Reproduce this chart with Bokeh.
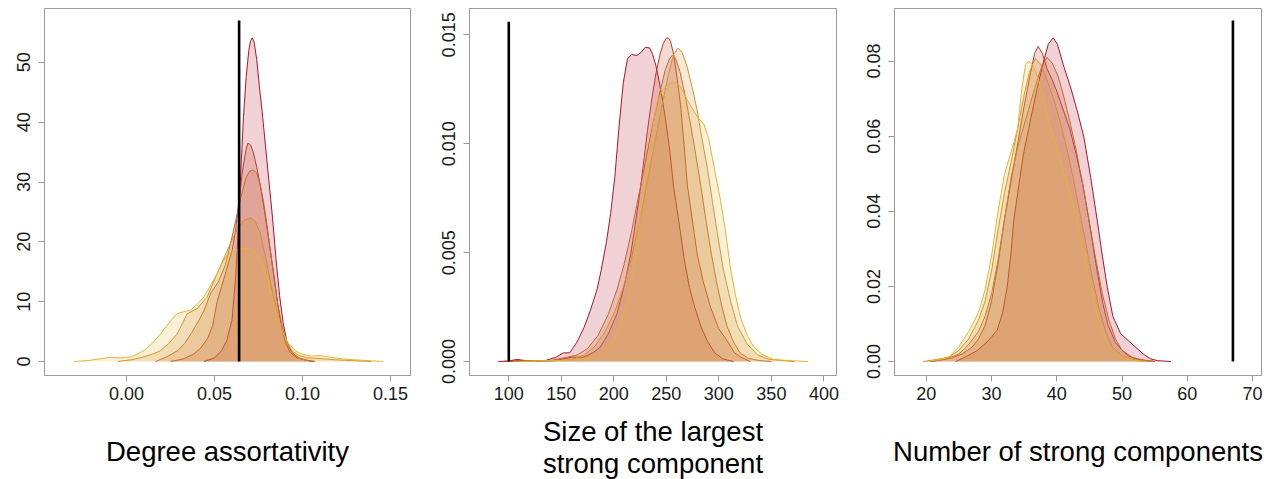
from bokeh.plotting import figure
from bokeh.layouts import row
from bokeh.models import FixedTicker
from bokeh.embed import file_html
from bokeh.resources import INLINE

# ---------------- Panel 1: Degree assortativity ----------------
a_x1 = [0.044, 0.050, 0.054, 0.057, 0.060, 0.062, 0.0635, 0.065, 0.0665, 0.068, 0.0695, 0.0705, 0.0715, 0.0725, 0.074, 0.0755, 0.077, 0.079, 0.081, 0.083, 0.085, 0.087, 0.089, 0.091, 0.094, 0.098, 0.102, 0.106]
a_y1 = [0, 0.6, 1.8, 3.5, 7, 14, 22, 32, 41, 47.5, 52, 53.6, 54.1, 53.4, 50.5, 46, 42, 36, 30, 24, 17, 11, 6.5, 3.5, 1.5, 0.6, 0.2, 0]
a_x2 = [0.025, 0.032, 0.038, 0.042, 0.046, 0.049, 0.0515, 0.054, 0.057, 0.060, 0.062, 0.064, 0.066, 0.068, 0.069, 0.0705, 0.072, 0.074, 0.076, 0.078, 0.080, 0.082, 0.084, 0.086, 0.088, 0.090, 0.093, 0.097, 0.101, 0.107]
a_y2 = [0, 0.4, 1.2, 2.2, 3.8, 6, 10, 12.5, 15.5, 18.5, 22, 27, 32, 35.5, 36.5, 36.2, 35, 32.5, 29.5, 26, 22, 18, 14, 9.5, 6, 3.5, 1.5, 0.6, 0.3, 0]
a_x3 = [0.0165, 0.023, 0.029, 0.033, 0.037, 0.041, 0.044, 0.048, 0.052, 0.056, 0.059, 0.062, 0.065, 0.068, 0.070, 0.072, 0.074, 0.076, 0.078, 0.080, 0.082, 0.084, 0.086, 0.088, 0.090, 0.093, 0.097, 0.102, 0.107]
a_y3 = [0, 0.8, 1.8, 3.0, 4.8, 6.8, 8.5, 11.5, 13.2, 16, 19.5, 23.5, 27.5, 30.8, 31.8, 32, 31.5, 29.5, 26.5, 22.5, 18, 13.5, 9.5, 6.5, 4.0, 1.8, 0.7, 0.2, 0]
a_x4 = [-0.005, 0.003, 0.010, 0.0155, 0.0193, 0.024, 0.0288, 0.032, 0.0345, 0.040, 0.0458, 0.0515, 0.0572, 0.061, 0.064, 0.067, 0.0705, 0.073, 0.076, 0.079, 0.082, 0.085, 0.088, 0.091, 0.094, 0.098, 0.103, 0.110, 0.118, 0.128, 0.139]
a_y4 = [0, 0.3, 0.8, 1.3, 1.8, 3.0, 4.6, 6.5, 8.0, 8.8, 10.75, 14.7, 18.5, 21, 22.6, 23.6, 24, 23.5, 21.5, 17.5, 13, 9, 5.5, 3.2, 1.8, 1.0, 0.6, 0.5, 0.3, 0.15, 0]
a_x5 = [-0.030, -0.022, -0.015, -0.009, -0.003, 0.003, 0.0098, 0.0145, 0.0193, 0.024, 0.0288, 0.0335, 0.0364, 0.040, 0.0439, 0.048, 0.0515, 0.0545, 0.0572, 0.061, 0.065, 0.069, 0.073, 0.0765, 0.080, 0.083, 0.086, 0.089, 0.092, 0.096, 0.100, 0.105, 0.110, 0.116, 0.124, 0.134, 0.146]
a_y5 = [0, 0.15, 0.45, 0.7, 0.6, 0.8, 1.8, 3.0, 4.6, 6.4, 8.0, 8.4, 8.6, 9.5, 10.75, 12.8, 14.7, 16.5, 17.8, 18.5, 18.8, 18.9, 18.4, 17, 14, 10.5, 7.5, 4.8, 3.0, 1.8, 1.2, 0.9, 1.0, 0.7, 0.4, 0.2, 0]
a_obs = 0.064
a_obs_top = 57
a_xticks = [0.0, 0.05, 0.10, 0.15]
a_xlabels = ["0.00", "0.05", "0.10", "0.15"]
a_yticks = [0, 10, 20, 30, 40, 50]
a_ylabels = ["0", "10", "20", "30", "40", "50"]

# ---------------- Panel 2: Size of the largest strong component ----------------
b_x1 = [90, 100, 108, 115, 125, 135, 145, 152, 158, 165, 172, 178, 184, 188, 193, 197, 201, 205, 209, 213, 217, 222, 226, 230, 234, 237, 240, 243, 246, 249, 253, 257, 262, 267, 272, 277, 283, 289, 296, 304, 314]
b_y1 = [0, 0.00003, 0.0001, 0.00005, 0.00003, 0.00005, 0.0002, 0.0004, 0.0004, 0.0009, 0.0016, 0.0024, 0.0033, 0.0042, 0.0055, 0.0068, 0.0085, 0.0108, 0.0128, 0.0139, 0.0141, 0.01405, 0.0142, 0.01443, 0.0144, 0.0141, 0.0136, 0.0129, 0.0121, 0.0112, 0.0098, 0.0080, 0.0064, 0.0047, 0.0034, 0.0025, 0.0016, 0.00095, 0.0004, 0.00012, 0]
b_x2 = [95, 110, 125, 140, 150, 160, 171, 180, 187, 195, 203, 210, 216, 221, 225.5, 229, 232, 236, 240, 244, 247, 250, 252, 254, 257, 260, 263.5, 267, 270, 275, 279.5, 285, 292, 300, 308, 315, 321, 330]
b_y2 = [0, 0.00005, 0.00002, 0.00003, 0.0001, 0.0002, 0.0002, 0.0004, 0.00066, 0.0013, 0.0022, 0.0035, 0.0049, 0.0065, 0.0080, 0.0094, 0.0106, 0.0120, 0.0132, 0.0141, 0.0146, 0.01485, 0.01486, 0.0147, 0.0141, 0.0131, 0.0118, 0.0099, 0.0081, 0.0064, 0.0049, 0.0037, 0.0025, 0.0015, 0.00095, 0.0004, 0.0002, 0]
b_x3 = [100, 120, 140, 155, 165, 175, 185, 195, 203, 210, 217, 224, 231, 238, 244, 249, 253, 256, 259, 263, 268, 273, 278, 283, 288, 293, 298, 303, 308, 314, 320, 328, 338, 350]
b_y3 = [0, 0.00003, 0.00005, 0.0002, 0.0003, 0.0006, 0.0012, 0.0022, 0.0033, 0.0045, 0.0060, 0.0077, 0.0094, 0.0111, 0.0124, 0.0134, 0.0139, 0.01408, 0.0139, 0.0133, 0.0122, 0.0109, 0.0095, 0.0080, 0.0064, 0.0049, 0.0036, 0.0025, 0.0016, 0.0009, 0.0004, 0.00015, 0.00005, 0]
b_x4 = [105, 125, 145, 160, 172, 182, 192, 201, 209, 217, 225, 232, 238, 244, 249, 253, 257, 261, 265, 270, 275, 279.5, 284, 289, 294, 298.5, 304, 311, 318, 327, 337, 348, 360, 372]
b_y4 = [0, 0.00003, 0.00004, 0.0001, 0.0003, 0.0007, 0.0014, 0.0023, 0.0034, 0.0048, 0.0065, 0.0083, 0.0098, 0.0113, 0.0125, 0.0134, 0.0141, 0.01439, 0.0142, 0.0135, 0.0125, 0.0115, 0.0102, 0.0089, 0.0073, 0.0059, 0.0043, 0.0028, 0.0016, 0.0008, 0.0003, 0.0001, 0.00005, 0]
b_x5 = [110, 130, 150, 165, 180, 190, 200, 208, 216, 222, 228.6, 235, 241, 246, 251, 255, 258.8, 262, 266, 270, 275, 280, 285.7, 290, 294, 298, 301.6, 306, 311, 316, 320.7, 327, 333.3, 342, 352, 365, 385]
b_y5 = [0, 0.00003, 0.00005, 0.0001, 0.0002, 0.0005, 0.001, 0.0019, 0.0034, 0.0054, 0.0080, 0.0101, 0.0119, 0.0124, 0.0127, 0.0128, 0.01283, 0.0127, 0.0124, 0.0120, 0.0116, 0.0112, 0.0109, 0.0103, 0.0093, 0.0083, 0.0074, 0.0061, 0.0043, 0.0030, 0.0020, 0.0012, 0.00066, 0.0003, 0.0001, 0.00005, 0]
b_obs = 100
b_obs_top = 0.0156
b_xticks = [100, 150, 200, 250, 300, 350, 400]
b_xlabels = ["100", "150", "200", "250", "300", "350", "400"]
b_yticks = [0.0, 0.005, 0.010, 0.015]
b_ylabels = ["0.000", "0.005", "0.010", "0.015"]

# ---------------- Panel 3: Number of strong components ----------------
c_x1 = [24.5, 26, 27.8, 29.5, 30.85, 31.7, 32.4, 33.0, 33.4, 34.2, 34.9, 35.7, 36.5, 37.3, 38.0, 38.7, 39.45, 40.1, 41.0, 42.1, 43.1, 44.15, 45.2, 46.2, 47.0, 47.74, 48.6, 49.8, 51.0, 52.35, 53.4, 54.4, 55.5, 57.5]
c_y1 = [0, 0.0012, 0.0029, 0.0055, 0.0083, 0.013, 0.0198, 0.029, 0.0376, 0.047, 0.0553, 0.062, 0.0687, 0.075, 0.080, 0.0845, 0.0862, 0.0845, 0.079, 0.0731, 0.067, 0.0598, 0.049, 0.0376, 0.028, 0.0198, 0.012, 0.0074, 0.0055, 0.0034, 0.0018, 0.0007, 0.0002, 0]
c_x2 = [20.5, 22.5, 24, 25.5, 27, 28, 29, 30, 31, 32, 33, 34, 35, 36, 36.6, 37.15, 37.8, 38.5, 39.3, 40, 41, 42, 43, 44, 45, 46, 47, 47.8, 49, 50, 51, 52, 53.5, 55]
c_y2 = [0, 0.0005, 0.001, 0.002, 0.0038, 0.006, 0.0095, 0.016, 0.026, 0.038, 0.048, 0.058, 0.068, 0.077, 0.082, 0.0839, 0.082, 0.078, 0.075, 0.072, 0.067, 0.062, 0.055, 0.047, 0.037, 0.026, 0.016, 0.010, 0.005, 0.003, 0.0015, 0.0008, 0.0003, 0]
c_x3 = [21, 23, 25, 26.5, 28, 29, 30, 31, 32, 33, 34, 35, 36, 37, 37.8, 38.5, 39.3, 40.2, 41, 42, 43, 44, 45, 46, 47, 48, 49, 50, 51.5, 53, 55]
c_y3 = [0, 0.0006, 0.002, 0.0045, 0.008, 0.012, 0.018, 0.027, 0.038, 0.049, 0.057, 0.063, 0.069, 0.075, 0.079, 0.081, 0.0795, 0.076, 0.071, 0.064, 0.056, 0.047, 0.037, 0.027, 0.018, 0.011, 0.006, 0.003, 0.0012, 0.0004, 0]
c_x4 = [19.5, 21.5, 23.5, 25, 26.5, 28, 29, 30, 31, 32, 33, 34, 35, 35.8, 36.7, 37.6, 38.5, 39.5, 40.5, 41.5, 42.5, 43.5, 44.5, 45.5, 46.5, 47.5, 48.5, 50, 52, 54]
c_y4 = [0, 0.0005, 0.0012, 0.003, 0.006, 0.011, 0.016, 0.024, 0.035, 0.045, 0.053, 0.062, 0.071, 0.077, 0.0807, 0.079, 0.075, 0.070, 0.064, 0.057, 0.049, 0.040, 0.031, 0.022, 0.014, 0.008, 0.004, 0.0015, 0.0004, 0]
c_x5 = [20, 22, 23.5, 25, 26.5, 28, 29, 30, 31, 32, 33.2, 34.0, 34.6, 35.2, 35.7, 36.3, 37, 38, 39, 40, 41, 42, 43.1, 44, 45.2, 46.2, 47.2, 48.2, 49.5, 51, 53]
c_y5 = [0, 0.0005, 0.0012, 0.004, 0.008, 0.013, 0.019, 0.028, 0.040, 0.050, 0.057, 0.062, 0.072, 0.079, 0.080, 0.079, 0.076, 0.070, 0.0625, 0.057, 0.051, 0.045, 0.0384, 0.030, 0.0207, 0.0125, 0.0069, 0.0035, 0.0015, 0.0005, 0]
c_obs = 67
c_obs_top = 0.0908
c_xticks = [20, 30, 40, 50, 60, 70]
c_xlabels = ["20", "30", "40", "50", "60", "70"]
c_yticks = [0.0, 0.02, 0.04, 0.06, 0.08]
c_ylabels = ["0.00", "0.02", "0.04", "0.06", "0.08"]

series_colors = ["#B2182B", "#BD3F2E", "#C96631", "#D48C34", "#DFB337"]
line_colors = ["#A8162A", "#B8402C", "#C4672E", "#D38F2C", "#E0B532"]
FILL_ALPHA = 0.2

FONT = "Liberation Sans"
GRAY = "#9a9a9a"


def make_panel(xs, ys, obs, obs_top, xr, yr, xticks, xlabels, yticks, ylabels,
               label, fw, bl, br):
    p = figure(frame_width=fw, frame_height=367, x_range=xr, y_range=yr,
               output_backend="svg", toolbar_location=None,
               min_border_left=bl, min_border_right=br,
               min_border_top=8, min_border_bottom=104)
    p.grid.visible = False
    p.outline_line_color = GRAY
    p.outline_line_width = 1
    p.background_fill_color = "white"
    p.border_fill_color = "white"
    for i, (x, y) in enumerate(zip(xs, ys)):
        p.varea(x=x, y1=[0] * len(x), y2=y, fill_color=series_colors[i],
                fill_alpha=FILL_ALPHA)
        p.line(x, y, line_color=line_colors[i], line_width=1.0)
    p.segment(x0=[obs], y0=[0], x1=[obs], y1=[obs_top], line_color="black",
              line_width=2.6)
    for ax in (p.xaxis[0], p.yaxis[0]):
        ax.axis_line_color = GRAY
        ax.major_tick_line_color = GRAY
        ax.minor_tick_line_color = None
        ax.major_tick_out = 6
        ax.major_tick_in = 0
        ax.major_label_text_font = FONT
        ax.major_label_text_font_size = "18px"
        ax.major_label_text_color = "#1a1a1a"
    p.xaxis.ticker = FixedTicker(ticks=xticks)
    p.xaxis.major_label_overrides = {t: l for t, l in zip(xticks, xlabels)}
    p.yaxis.ticker = FixedTicker(ticks=yticks)
    p.yaxis.major_label_overrides = {t: l for t, l in zip(yticks, ylabels)}
    p.yaxis.major_label_orientation = "vertical"
    p.yaxis.major_label_standoff = 8
    p.xaxis.major_label_standoff = 5
    p.xaxis.axis_label = label
    p.xaxis.axis_label_text_font = FONT
    p.xaxis.axis_label_text_font_size = "27.5px"
    p.xaxis.axis_label_text_font_style = "normal"
    p.xaxis.axis_label_text_color = "black"
    p.xaxis.axis_label_standoff = 33
    return p


p1 = make_panel([a_x1, a_x2, a_x3, a_x4, a_x5], [a_y1, a_y2, a_y3, a_y4, a_y5],
                a_obs, a_obs_top, (-0.0466, 0.1614), (-2.34, 59.0),
                a_xticks, a_xlabels, a_yticks, a_ylabels,
                "Degree assortativity", 366, 44, 18)
p2 = make_panel([b_x1, b_x2, b_x3, b_x4, b_x5], [b_y1, b_y2, b_y3, b_y4, b_y5],
                b_obs, b_obs_top, (62.6, 412.0), (-0.00064, 0.01621),
                b_xticks, b_xlabels, b_yticks, b_ylabels,
                "Size of the largest\nstrong component", 367, 41, 14)
p2.xaxis.axis_label_standoff = 13
p2.xaxis.axis_label_text_line_height = 1.04
p3 = make_panel([c_x1, c_x2, c_x3, c_x4, c_x5], [c_y1, c_y2, c_y3, c_y4, c_y5],
                c_obs, c_obs_top, (15.13, 71.38), (-0.00373, 0.094),
                c_xticks, c_xlabels, c_yticks, c_ylabels,
                "Number of strong components", 367, 44, 9)

layout = row(p1, p2, p3)
open("out.html", "w").write(file_html(layout, INLINE))
